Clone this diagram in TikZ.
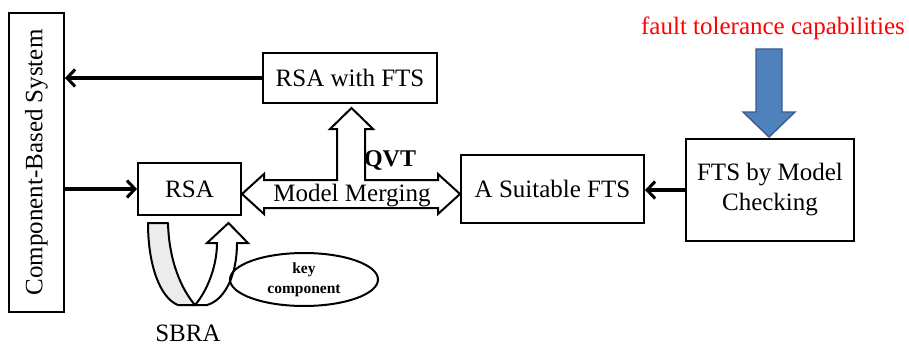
\documentclass[tikz,border=0pt]{standalone}
\usepackage{fontspec}
\setmainfont{Liberation Serif}
\usetikzlibrary{arrows.meta,shapes.geometric}
\definecolor{ftblue}{RGB}{79,129,189}
\definecolor{ftbluedark}{RGB}{56,93,138}
\definecolor{bandgray}{RGB}{236,236,236}
\begin{document}
\begin{tikzpicture}[x=1pt,y=-1pt,
  box/.style={draw, line width=2pt, inner sep=0pt, align=center, font=\fontsize{25}{30}\selectfont},
  conn/.style={line width=3.2pt, -{Straight Barb[length=8pt,width=17pt,line width=3pt]}},
  outlined/.style={draw, line width=2pt, line join=miter, fill=white},
  lbl/.style={inner sep=0pt, font=\fontsize{25}{30}\selectfont}]
\useasboundingbox (0,0) rectangle (909,345);
% boxes
\node[box, rotate=90, minimum width=299pt, minimum height=55pt] (cbs) at (36.5,162.5) {Component-Based System};
\node[box, minimum width=103pt, minimum height=52pt] (rsa) at (189.5,189) {RSA};
\node[box, minimum width=174pt, minimum height=50pt] (rsafts) at (350,78) {RSA with FTS};
\node[box, minimum width=183pt, minimum height=68pt] (suit) at (552.5,189) {A Suitable FTS};
\node[box, minimum width=168pt, minimum height=102pt] (ftsmc) at (770,190) {FTS by Model\\Checking};
% connectors
\draw[conn] (rsafts.west) -- (rsafts.west -| cbs.south);
\draw[conn] (rsa.west -| cbs.south) -- (rsa.west);
\draw[conn] (ftsmc.west) -- (ftsmc.west -| suit.east);
% model merging block arrow
\draw[outlined] (242,194) -- (264,174) -- (264,180) -- (337,180) -- (337,129) -- (330,129)
  -- (351.5,108) -- (373,129) -- (365,129) -- (365,180) -- (438,180) -- (438,174)
  -- (460,194) -- (438,214) -- (438,208) -- (264,208) -- (264,214) -- cycle;
\node[lbl] (mm) at (352,196) {Model Merging};
\node[lbl, font=\bfseries\fontsize{24}{30}\selectfont] (qvt) at (390,160) {QVT};
% fault tolerance
\node[lbl, text=red] (ftc) at (773,28) {fault tolerance capabilities};
\draw[fill=ftblue, draw=ftbluedark, line width=1.4pt, line join=miter]
  (756,49) -- (782,49) -- (782,112) -- (795,112) -- (769,137) -- (743,112) -- (756,112) -- cycle;
% SBRA u-turn arrow
\draw[line width=2pt, fill=bandgray, line join=round]
  (148,223) -- (168,223) .. controls (169,262) and (182,290) .. (195,305)
  -- (178,305) .. controls (160,298) and (148,265) .. (148,223) -- cycle;
\draw[line width=2pt, fill=white, line join=miter]
  (195,305) .. controls (208,290) and (217,265) .. (217,243) -- (207,243) -- (228.5,223)
  -- (248,243) -- (237,243) .. controls (237,275) and (225,300) .. (207,305) -- cycle;
\node[draw, ellipse, line width=2pt, minimum width=148pt, minimum height=53pt, inner sep=0pt,
  align=center, font=\bfseries\fontsize{15.5}{20}\selectfont] (key) at (304,279.5) {key\\component};
\node[lbl] (sbra) at (188,333) {SBRA};
\end{tikzpicture}
\end{document}
